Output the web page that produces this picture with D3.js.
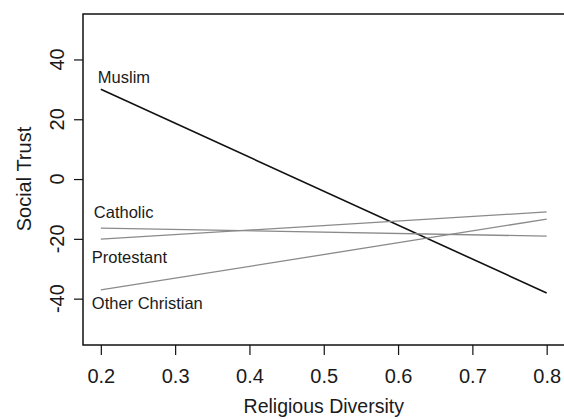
<!DOCTYPE html>
<html>
<head>
<meta charset="utf-8">
<script src="https://cdn.jsdelivr.net/npm/d3@7"></script>
<style>
  body { margin: 0; background: #fff; overflow: hidden; }
  text { font-family: "Liberation Sans", Arial, sans-serif; fill: #1a1a1a; }
</style>
</head>
<body>
<div id="chart"></div>
<script>
// data: predicted social trust at diversity 0.2 and 0.8
var groups = ["Muslim", "Catholic", "Protestant", "Other Christian"];
var diversityEnds = [0.2, 0.8];
var trustStart = [30, -16.4, -20.1, -37.1];
var trustEnd = [-38.1, -19.1, -11.0, -13.4];
var xTicks = [0.2, 0.3, 0.4, 0.5, 0.6, 0.7, 0.8];
var yTicks = [-40, -20, 0, 20, 40];

var width = 564, height = 419;

var svg = d3.select("#chart")
  .append("svg")
    .attr("width", width)
    .attr("height", height)
    .style("display", "block");

// scales (R style padding around the data; box runs off the right edge)
var x = d3.scaleLinear()
  .domain([0.176, 0.826])
  .range([83, 566]);

var y = d3.scaleLinear()
  .domain([-55.5, 55.2])
  .range([345, 14]);

// plot box
svg.append("rect")
  .attr("x", x.range()[0])
  .attr("y", y.range()[1])
  .attr("width", x.range()[1] - x.range()[0])
  .attr("height", y.range()[0] - y.range()[1])
  .attr("fill", "none")
  .attr("stroke", "#111")
  .attr("stroke-width", 1.5);

// x axis
var xAxis = svg.append("g")
  .attr("transform", "translate(0," + y.range()[0] + ")")
  .call(d3.axisBottom(x).tickValues(xTicks).tickSize(10).tickPadding(6)
    .tickFormat(d3.format(".1f")));
xAxis.select(".domain").remove();
xAxis.selectAll("line").attr("stroke", "#111").attr("stroke-width", 1.2);
xAxis.selectAll("text")
  .attr("y", 0)
  .attr("dy", 38)
  .style("font-size", "20px")
  .style("font-family", "Liberation Sans, Arial, sans-serif")
  .attr("fill", "#1a1a1a");

// y axis with rotated labels
var yAxis = svg.append("g")
  .attr("transform", "translate(" + x.range()[0] + ",0)")
  .call(d3.axisLeft(y).tickValues(yTicks).tickSize(9).tickFormat(d3.format("d")));
yAxis.select(".domain").remove();
yAxis.selectAll("line").attr("stroke", "#111").attr("stroke-width", 1.2);
yAxis.selectAll("text").remove();

svg.selectAll(".ylab")
  .data(yTicks)
  .enter().append("text")
    .attr("class", "ylab")
    .attr("transform", function(d) { return "translate(64," + y(d) + ") rotate(-90)"; })
    .attr("text-anchor", "middle")
    .style("font-size", "20px")
    .text(function(d) { return d; });

// axis titles
svg.append("text")
  .attr("x", x(0.5))
  .attr("y", 413)
  .attr("text-anchor", "middle")
  .style("font-size", "19.5px")
  .text("Religious Diversity");

svg.append("text")
  .attr("transform", "translate(31," + y(0) + ") rotate(-90)")
  .attr("text-anchor", "middle")
  .style("font-size", "20px")
  .text("Social Trust");

// fitted lines
var lineColor = ["#111", "#8a8a8a", "#8a8a8a", "#8a8a8a"];
var line = d3.line()
  .x(function(d) { return x(d[0]); })
  .y(function(d) { return y(d[1]); });

groups.forEach(function(g, i) {
  svg.append("path")
    .datum([[diversityEnds[0], trustStart[i]], [diversityEnds[1], trustEnd[i]]])
    .attr("fill", "none")
    .attr("stroke", lineColor[i])
    .attr("stroke-width", i === 0 ? 1.6 : 1.3)
    .attr("d", line);
});

// group labels next to the left end of each line
var labelDx = [-3, -7, -9, -9];
var labelDy = [-6, -10, 24, 19];
groups.forEach(function(g, i) {
  svg.append("text")
    .attr("x", x(diversityEnds[0]) + labelDx[i])
    .attr("y", y(trustStart[i]) + labelDy[i])
    .style("font-size", "16.5px")
    .text(g);
});
</script>
</body>
</html>
